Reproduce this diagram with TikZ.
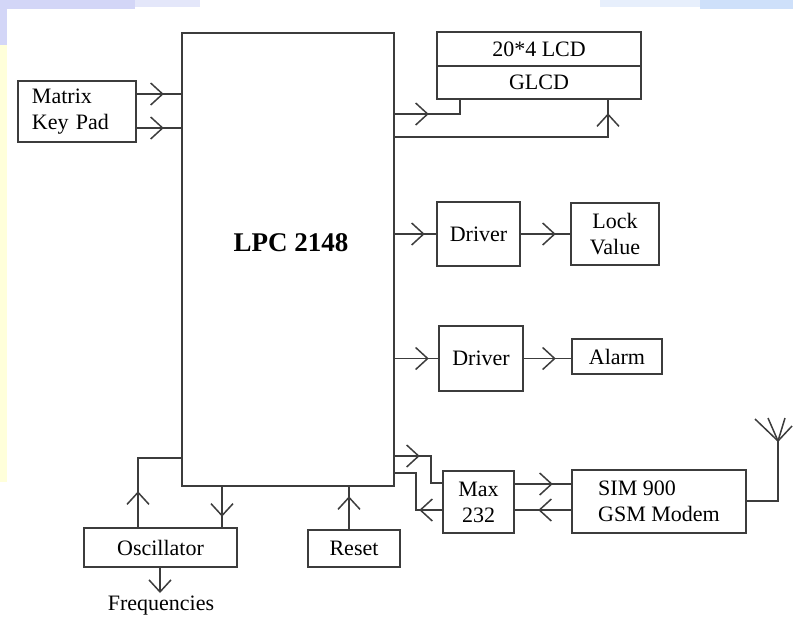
\documentclass[tikz,border=0pt]{standalone}
\usepackage{fontspec}
\setmainfont{Liberation Serif}
\usetikzlibrary{arrows.meta,decorations.markings}
\definecolor{linegray}{HTML}{3C3C3C}
\definecolor{bgblue}{HTML}{D3D6F7}
\definecolor{bgblueb}{HTML}{CEE0FA}
\definecolor{bgyellow}{HTML}{FFFFDA}
\begin{document}
\begin{tikzpicture}[x=0.5pt,y=-0.5pt,
  ln/.style={draw=linegray, line width=0.75pt},
  box/.style={draw=linegray, line width=0.75pt, inner sep=0pt, font=\fontsize{11}{13}\selectfont, align=center},
  txt/.style={font=\fontsize{11}{13}\selectfont},
  barb/.style={-{Straight Barb[length=6pt,width=11pt,line width=0.75pt]}},
  mid/.style={postaction={decorate,decoration={markings,mark=at position #1 with {\arrow{Straight Barb[length=6pt,width=11pt,line width=0.75pt]}}}}},
]
\useasboundingbox (0,0) rectangle (793,617);
% faint slide background
\fill[bgblue] (0,0) rectangle (135,9);
\fill[bgblue!60] (135,0) rectangle (200,7);
\fill[bgblue] (0,9) rectangle (7,45);
\fill[bgyellow] (0,45) rectangle (7,482);
\fill[bgblueb!50] (600,0) rectangle (700,7);
\fill[bgblueb] (700,0) rectangle (793,9);

% blocks
\node[box, minimum width=106pt, minimum height=226.5pt] (lpc) at (288,259.5) {};
\node[font=\bfseries\fontsize{13.5}{16}\selectfont] (lpctxt) at (291,243) {LPC 2148};
\node[box, minimum width=102pt, minimum height=17pt] (lcd) at (539,49) {20*4 LCD};
\node[box, minimum width=102pt, minimum height=16.5pt] (glcd) at (539,82.5) {GLCD};
\node[box, minimum width=59pt, minimum height=30.5pt, align=left, text width=45pt, inner xsep=7pt] (kp) at (77,111.5) {Matrix\\Key Pad};
\node[box, minimum width=41.5pt, minimum height=32pt] (drv1) at (478.5,234) {Driver};
\node[box, minimum width=44pt, minimum height=31pt] (lock) at (615,234) {Lock\\Value};
\node[box, minimum width=42pt, minimum height=32.5pt] (drv2) at (481,358.5) {Driver};
\node[box, minimum width=45pt, minimum height=17.5pt] (alarm) at (617,356.5) {Alarm};
\node[box, minimum width=35.5pt, minimum height=31pt] (max) at (478.5,502) {Max\\232};
\node[box, minimum width=87pt, minimum height=31.5pt, align=left] (sim) at (659,501.5) {SIM 900\\GSM Modem};
\node[box, minimum width=76.5pt, minimum height=19.5pt] (osc) at (160.5,547.5) {Oscillator};
\node[box, minimum width=46pt, minimum height=18.5pt] (reset) at (354,548.5) {Reset};
\node[txt] (freq) at (161,606) {Frequencies};

% connectors
\draw[ln, mid=13.5pt] (kp.east |- 0,94) -- (lpc.west |- 0,94);
\draw[ln, mid=13.5pt] (kp.east |- 0,128) -- (lpc.west |- 0,128);
\draw[ln, mid=17pt] (lpc.east |- 0,114) -| (460,0 |- glcd.south);
\draw[ln, mid=118.5pt] (lpc.east |- 0,137) -| (608,0 |- glcd.south);
\draw[ln, mid=15pt] (lpc.east |- drv1.west) -- (drv1.west);
\draw[ln, mid=17.5pt] (drv1.east) -- (lock.west |- drv1.east);
\draw[ln, mid=17pt] (lpc.east |- drv2.west) -- (drv2.west);
\draw[ln, mid=16pt] (drv2.east) -- (alarm.west |- drv2.east);
\draw[ln, mid=12.5pt] (lpc.east |- 0,456) -| (431,483) -- (max.west |- 0,483);
\draw[ln, mid=11.5pt] (max.west |- 0,510) -| (416,473) -- (lpc.east |- 0,473);
\draw[ln, mid=19pt] (max.east |- 0,484) -- (sim.west |- 0,484);
\draw[ln, mid=16.5pt] (sim.west |- 0,510) -- (max.east |- 0,510);
\draw[ln, mid=18pt] (138,0 |- osc.north) |- (lpc.west |- 0,458);
\draw[ln, mid=15pt] (222,0 |- lpc.south) -- (222,0 |- osc.north);
\draw[ln, barb] (160,0 |- osc.south) -- (160,593);
\draw[ln, mid=16.5pt] (349,0 |- reset.north) -- (349,0 |- lpc.south);

% antenna
\coordinate (ant) at (778,441);
\draw[ln] (sim.east |- 0,501) -| (ant);
\draw[ln] (ant) -- (755,419);
\draw[ln] (ant) -- (768,418);
\draw[ln] (ant) -- (785,418);
\draw[ln] (ant) -- (792,426);
\end{tikzpicture}
\end{document}
